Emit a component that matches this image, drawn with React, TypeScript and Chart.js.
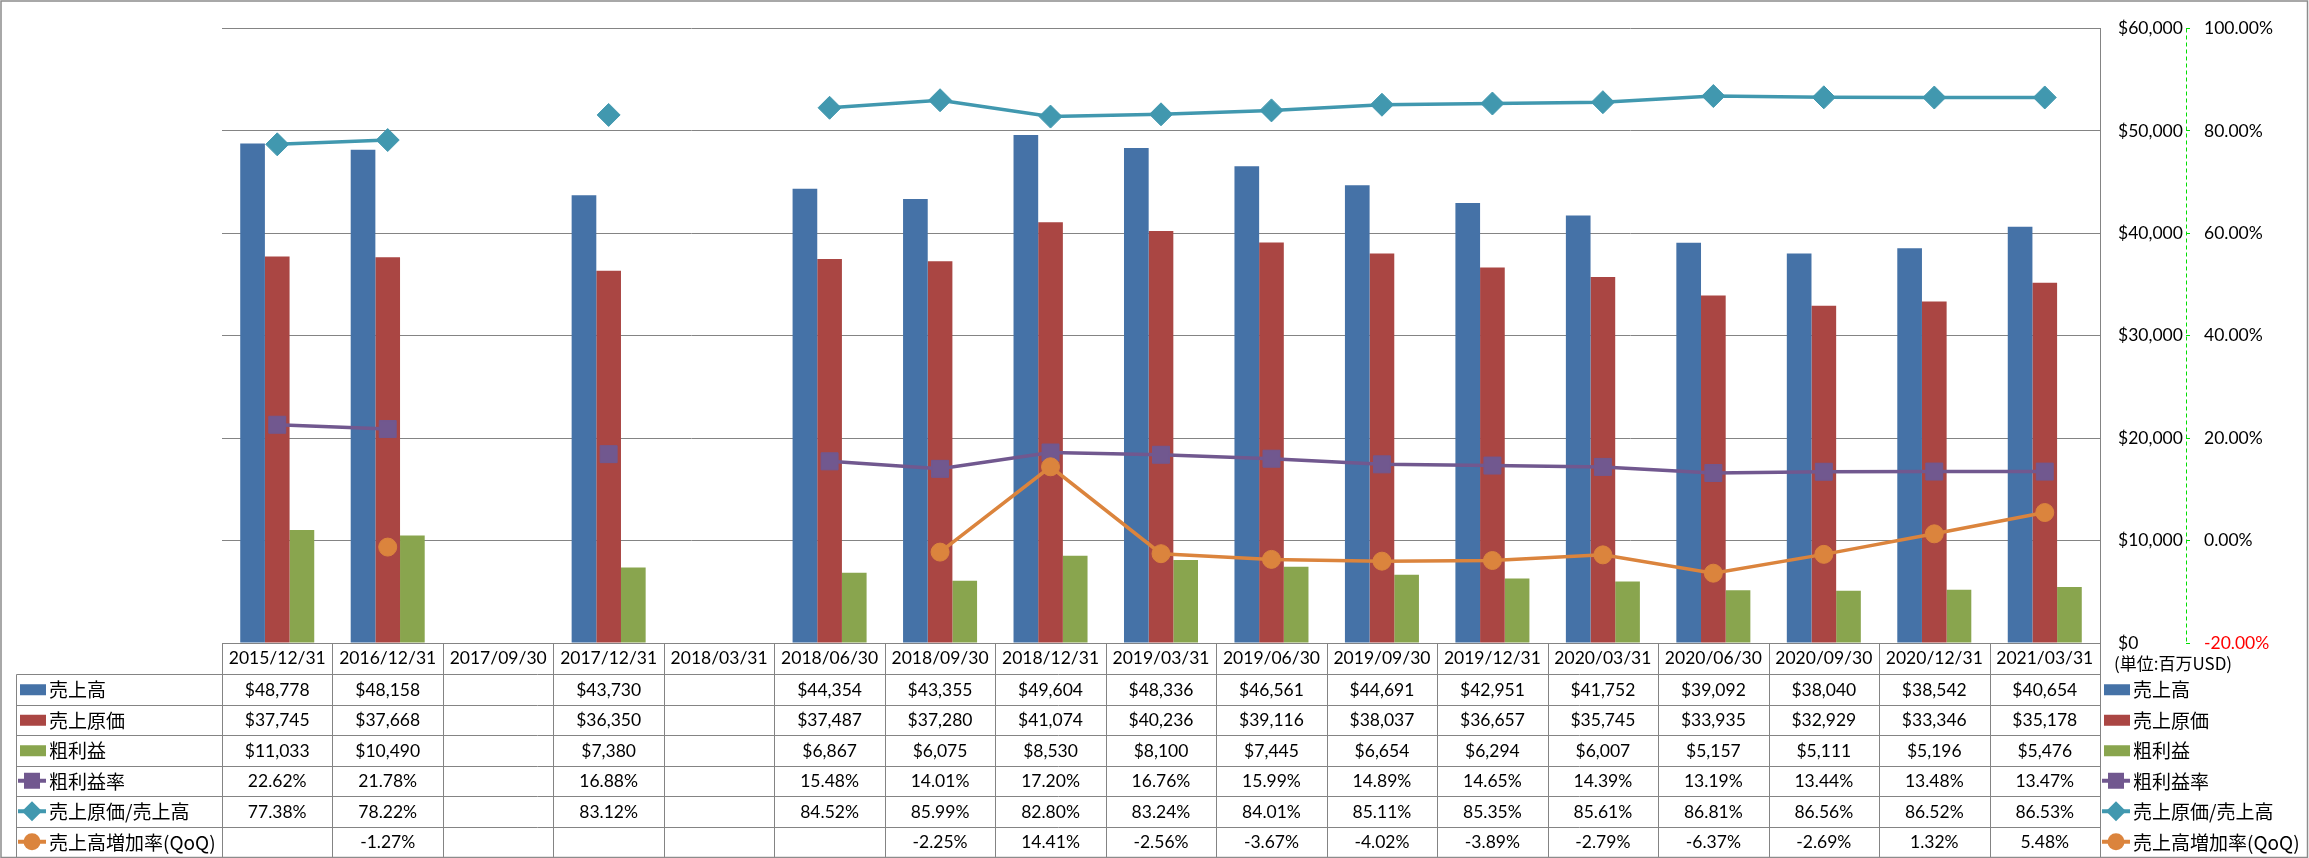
import React, { useEffect, useRef } from 'react';
import { Chart, registerables } from 'chart.js';

Chart.register(...registerables);

// ---------- data ----------
const categories = [
  '2015/12/31', '2016/12/31', '2017/09/30', '2017/12/31', '2018/03/31', '2018/06/30',
  '2018/09/30', '2018/12/31', '2019/03/31', '2019/06/30', '2019/09/30', '2019/12/31',
  '2020/03/31', '2020/06/30', '2020/09/30', '2020/12/31', '2021/03/31',
];
const sales = [48778, 48158, null, 43730, null, 44354, 43355, 49604, 48336, 46561, 44691, 42951, 41752, 39092, 38040, 38542, 40654];
const costOfSales = [37745, 37668, null, 36350, null, 37487, 37280, 41074, 40236, 39116, 38037, 36657, 35745, 33935, 32929, 33346, 35178];
const grossProfit = [11033, 10490, null, 7380, null, 6867, 6075, 8530, 8100, 7445, 6654, 6294, 6007, 5157, 5111, 5196, 5476];
const grossMargin = [22.62, 21.78, null, 16.88, null, 15.48, 14.01, 17.2, 16.76, 15.99, 14.89, 14.65, 14.39, 13.19, 13.44, 13.48, 13.47];
const costRatio = [77.38, 78.22, null, 83.12, null, 84.52, 85.99, 82.8, 83.24, 84.01, 85.11, 85.35, 85.61, 86.81, 86.56, 86.52, 86.53];
const salesGrowthQoQ = [null, -1.27, null, null, null, null, -2.25, 14.41, -2.56, -3.67, -4.02, -3.89, -2.79, -6.37, -2.69, 1.32, 5.48];

const seriesNames = ['売上高', '売上原価', '粗利益', '粗利益率', '売上原価/売上高', '売上高増加率(QoQ)'];
const unitLabel = '(単位:百万USD)';

const dollarAxis = { min: 0, max: 60000, step: 10000 };
const percentAxis = { min: -20, max: 100, step: 20 };

// ---------- styles ----------
const COLORS = ['#4572A7', '#AA4643', '#89A54E', '#71588F', '#4198AF', '#DB843D'];
const LATIN = 'Lato, "Noto Sans", sans-serif';
const CJK = '"Noto Sans CJK JP", sans-serif';
const GRID = '#848484';
const LINE_GREEN = '#00DD00';

const W = 2309;
const H = 858;
const TABLE_LEFT = 16;
const TABLE_BOTTOM = 857;

function fmtDollar(v: number) {
  return '$' + v.toLocaleString('en-US');
}
function fmtPct(v: number) {
  return v.toFixed(2) + '%';
}

function drawMarker(ctx: CanvasRenderingContext2D, style: string, x: number, y: number, size: number, color: string) {
  ctx.save();
  ctx.fillStyle = color;
  ctx.beginPath();
  if (style === 'rect') {
    ctx.rect(x - size / 2, y - size / 2, size, size);
  } else if (style === 'rectRot') {
    const r = size / 2;
    ctx.moveTo(x, y - r);
    ctx.lineTo(x + r, y);
    ctx.lineTo(x, y + r);
    ctx.lineTo(x - r, y);
    ctx.closePath();
  } else {
    ctx.arc(x, y, size / 2, 0, Math.PI * 2);
  }
  ctx.fill();
  ctx.restore();
}

function drawKey(ctx: CanvasRenderingContext2D, ds: any, cx: number, cy: number) {
  const color = ds.backgroundColor as string;
  if (ds.type === 'line') {
    ctx.save();
    ctx.strokeStyle = color;
    ctx.lineWidth = 4;
    ctx.beginPath();
    ctx.moveTo(cx - 15, cy);
    ctx.lineTo(cx + 13, cy);
    ctx.stroke();
    ctx.restore();
    const sz = ds.pointStyle === 'rectRot' ? 20 : ds.pointStyle === 'rect' ? 16 : 17;
    drawMarker(ctx, ds.pointStyle, cx - 1, cy, sz, color);
  } else {
    ctx.fillStyle = color;
    ctx.fillRect(cx - 13, cy - 5, 26, 11);
  }
}

const tablePlugin = {
  id: 'dataTable',
  afterDraw(chart: any) {
    const ctx: CanvasRenderingContext2D = chart.ctx;
    const xs = chart.scales.x;
    const y1 = chart.scales.y1;
    const area = chart.chartArea;
    const n = categories.length;
    const colW = (xs.right - xs.left) / n;
    const headerTop = area.bottom;
    const headerBottom = xs.bottom;
    const datasets = chart.data.datasets;
    const rowH = (TABLE_BOTTOM - headerBottom) / datasets.length;
    const px = (v: number) => Math.round(v) + 0.5;

    ctx.save();

    // dashed percent axis line
    ctx.strokeStyle = LINE_GREEN;
    ctx.lineWidth = 1;
    ctx.setLineDash([4, 3]);
    ctx.beginPath();
    ctx.moveTo(px(y1.left), area.top);
    ctx.lineTo(px(y1.left), area.bottom);
    ctx.stroke();
    ctx.setLineDash([]);

    ctx.strokeStyle = GRID;
    ctx.lineWidth = 1;
    ctx.beginPath();
    ctx.moveTo(px(xs.left), px(headerTop));
    ctx.lineTo(px(xs.right), px(headerTop));
    for (let r = 0; r <= datasets.length; r++) {
      const y = px(headerBottom + r * rowH);
      ctx.moveTo(TABLE_LEFT + 0.5, y);
      ctx.lineTo(px(xs.right), y);
    }
    ctx.moveTo(TABLE_LEFT + 0.5, px(headerBottom));
    ctx.lineTo(TABLE_LEFT + 0.5, px(TABLE_BOTTOM));
    for (let i = 0; i <= n; i++) {
      const x = px(xs.left + i * colW);
      ctx.moveTo(x, px(headerTop));
      ctx.lineTo(x, px(TABLE_BOTTOM));
    }
    ctx.stroke();

    // cell values
    ctx.fillStyle = '#000';
    ctx.textAlign = 'center';
    ctx.textBaseline = 'middle';
    ctx.font = `17.5px ${LATIN}`;
    datasets.forEach((ds: any, r: number) => {
      const cy = headerBottom + r * rowH + rowH / 2 + 1;
      ds.data.forEach((v: number | null, i: number) => {
        if (v === null || v === undefined) return;
        const cx = xs.getPixelForValue(i);
        ctx.fillText(r < 3 ? fmtDollar(v) : fmtPct(v), cx, cy);
      });
    });

    // legend keys inside table and at right
    ctx.textAlign = 'left';
    ctx.font = `19px ${CJK}`;
    datasets.forEach((ds: any, r: number) => {
      const cy = headerBottom + r * rowH + rowH / 2;
      drawKey(ctx, ds, 33, cy);
      ctx.fillStyle = '#000';
      ctx.fillText(ds.label, 49, cy + 1);
      drawKey(ctx, ds, 2117, cy);
      ctx.fillStyle = '#000';
      ctx.fillText(ds.label, 2133, cy + 1);
    });

    // unit label
    ctx.font = `17px ${CJK}`;
    ctx.fillText(unitLabel, 2114, headerTop + 21);

    // outer border
    ctx.strokeStyle = '#8c8c8c';
    ctx.lineWidth = 1.5;
    ctx.strokeRect(1, 1, W - 2.5, H - 1.5);
    ctx.restore();
  },
};

export default function App() {
  const ref = useRef<HTMLCanvasElement>(null);

  useEffect(() => {
    document.body.style.margin = '0';
    const canvas = ref.current;
    if (!canvas) return;

    const lineBase = {
      type: 'line' as const,
      yAxisID: 'y1',
      borderWidth: 3.5,
      tension: 0,
      spanGaps: false,
      pointBorderWidth: 1,
    };

    const chart = new Chart(canvas, {
      type: 'bar',
      data: {
        labels: categories,
        datasets: [
          { label: seriesNames[0], data: sales, backgroundColor: COLORS[0], yAxisID: 'y', order: 10, categoryPercentage: 0.67, barPercentage: 1 },
          { label: seriesNames[1], data: costOfSales, backgroundColor: COLORS[1], yAxisID: 'y', order: 10, categoryPercentage: 0.67, barPercentage: 1 },
          { label: seriesNames[2], data: grossProfit, backgroundColor: COLORS[2], yAxisID: 'y', order: 10, categoryPercentage: 0.67, barPercentage: 1 },
          { ...lineBase, label: seriesNames[3], data: grossMargin, borderColor: COLORS[3], backgroundColor: COLORS[3], pointBackgroundColor: COLORS[3], pointBorderColor: COLORS[3], pointStyle: 'rect', pointRadius: 12, order: 2 },
          { ...lineBase, label: seriesNames[4], data: costRatio, borderColor: COLORS[4], backgroundColor: COLORS[4], pointBackgroundColor: COLORS[4], pointBorderColor: COLORS[4], pointStyle: 'rectRot', pointRadius: 11.5, order: 1 },
          { ...lineBase, label: seriesNames[5], data: salesGrowthQoQ, borderColor: COLORS[5], backgroundColor: COLORS[5], pointBackgroundColor: COLORS[5], pointBorderColor: COLORS[5], pointStyle: 'circle', pointRadius: 9, order: 0 },
        ] as any,
      },
      options: {
        responsive: false,
        animation: false,
        devicePixelRatio: 1,
        layout: { padding: { left: 222, top: 13, right: 23, bottom: 184 } },
        plugins: {
          legend: { display: false },
          title: { display: false },
          tooltip: { enabled: false },
        },
        scales: {
          x: {
            offset: true,
            grid: { display: false, drawTicks: false },
            border: { display: false },
            ticks: { padding: 5, color: '#000', font: { family: LATIN, size: 17.5 }, maxRotation: 0, autoSkip: false },
            afterFit: (s: any) => { s.height = 31; },
          },
          y: {
            type: 'linear',
            position: 'right',
            min: dollarAxis.min,
            max: dollarAxis.max,
            ticks: {
              stepSize: dollarAxis.step,
              padding: 18,
              color: '#000',
              font: { family: LATIN, size: 17.5 },
              callback: (v: any) => fmtDollar(Number(v)),
            },
            grid: { color: GRID, lineWidth: 1, drawTicks: false },
            border: { display: true, color: GRID, width: 1 },
            afterFit: (s: any) => { s.width = 86; },
          },
          y1: {
            type: 'linear',
            position: 'right',
            min: percentAxis.min,
            max: percentAxis.max,
            ticks: {
              stepSize: percentAxis.step,
              padding: 14,
              color: (c: any) => (c.tick && c.tick.value < 0 ? '#FF0000' : '#000'),
              font: { family: LATIN, size: 17.5 },
              callback: (v: any) => fmtPct(Number(v)),
            },
            grid: { drawOnChartArea: false, drawTicks: true, tickLength: 4, color: LINE_GREEN, lineWidth: 1 },
            border: { display: false },
            afterFit: (s: any) => { s.width = 100; },
          },
        },
      } as any,
      plugins: [tablePlugin],
    });

    return () => chart.destroy();
  }, []);

  return (
    <canvas
      ref={ref}
      width={W}
      height={H}
      style={{ display: 'block', width: W, height: H }}
    />
  );
}
